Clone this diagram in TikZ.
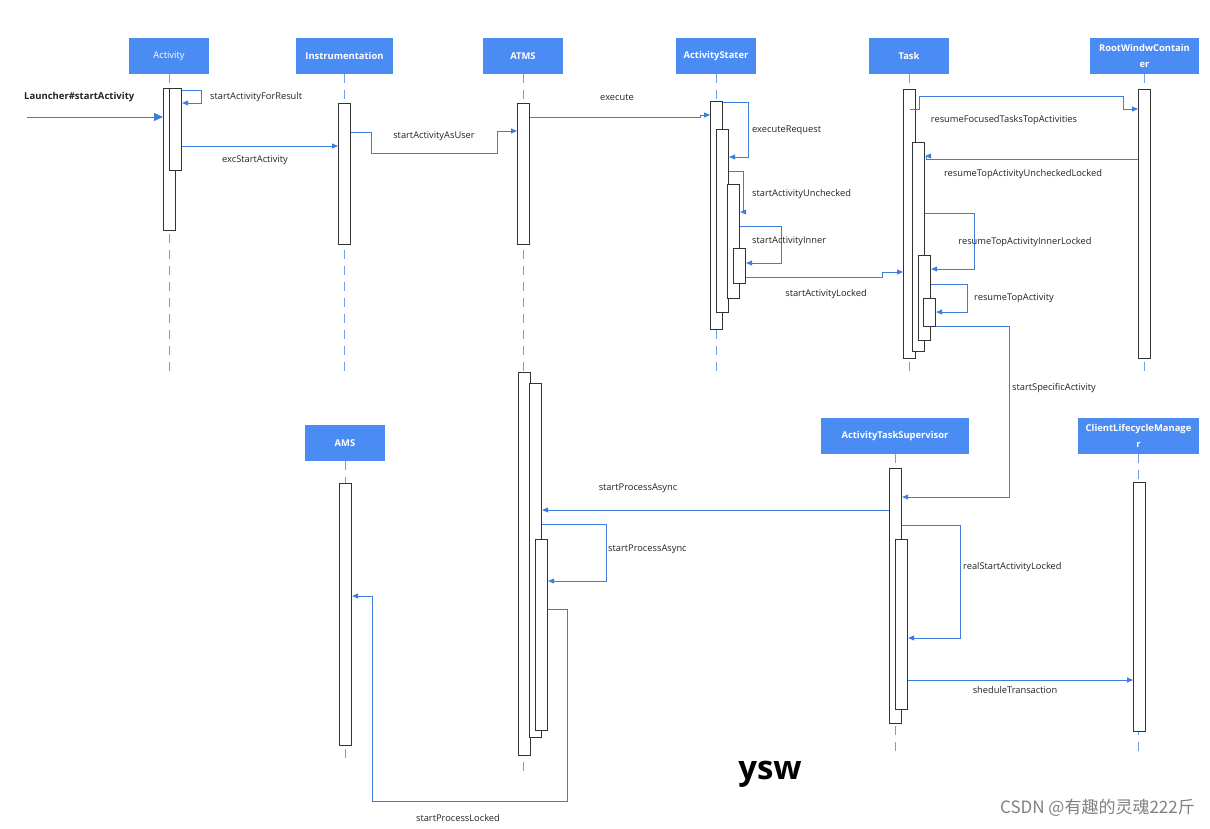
\documentclass[tikz,border=0pt]{standalone}
\usepackage{fontspec}
\setmainfont{Open Sans}
\newfontfamily\cjkfont{Noto Sans CJK SC}
\usetikzlibrary{arrows.meta, positioning}
\definecolor{headblue}{HTML}{4A8BF4}
\definecolor{msgblue}{HTML}{3D7EDD}
\definecolor{lifeblue}{HTML}{6E9FEE}
\definecolor{bargray}{HTML}{333333}
\definecolor{labelgray}{HTML}{222222}

\begin{document}
\begin{tikzpicture}[x=1pt, y=-1pt,
    head/.style={rectangle, fill=headblue, text=white, minimum height=36pt, inner sep=0pt, font=\fontsize{9.4}{16}\selectfont\bfseries, align=center},
    lifeline/.style={draw=lifeblue, dash pattern=on 9pt off 7pt, line width=1pt},
    bar/.style={rectangle, draw=bargray, fill=white, line width=1.1pt, anchor=north west, minimum width=12pt, inner sep=0pt},
    msg/.style={-{Triangle[length=6pt, width=5pt]}, draw=msgblue, line width=0.9pt},
    lbl/.style={font=\fontsize{9.3}{11}\selectfont, text=labelgray, inner sep=0pt}
]
\useasboundingbox (0,0) rectangle (1210,828);

% heads
\node[head, minimum width=80pt] (hAct) at (169,56) {\mdseries Activity};
\node[head, minimum width=97pt] (hIns) at (344.5,56) {Instrumentation};
\node[head, minimum width=80pt] (hAtms) at (523,56) {ATMS};
\node[head, minimum width=80pt] (hStarter) at (716,56) {ActivityStater};
\node[head, minimum width=80pt] (hTask) at (909,56) {Task};
\node[head, minimum width=109pt] (hRoot) at (1144.5,56) {RootWindwContain\\er};
\node[head, minimum width=80pt] (hAms) at (345,443) {AMS};
\node[head, minimum width=148pt] (hSup) at (895,436) {ActivityTaskSupervisor};
\node[head, minimum width=121pt] (hClient) at (1138.5,436) {ClientLifecycleManage\\r};

% lifelines
\draw[lifeline] (hAct.south) -- (hAct.south |- 0,375);
\draw[lifeline] (hIns.south) -- (hIns.south |- 0,375);
\draw[lifeline] (hAtms.south) -- (hAtms.south |- 0,773);
\draw[lifeline] (hStarter.south) -- (hStarter.south |- 0,375);
\draw[lifeline] (hTask.south) -- (hTask.south |- 0,375);
\draw[lifeline] (hRoot.south) -- (hRoot.south |- 0,375);
\draw[lifeline] (hAms.south) -- (hAms.south |- 0,762);
\draw[lifeline] (hSup.south) -- (hSup.south |- 0,755);
\draw[lifeline] (hClient.south) -- (hClient.south |- 0,757);

% activation bars
\node[bar, minimum height=142pt] (actA) at (163,88) {};
\node[bar, minimum height=82pt] (actB) at (169,88) {};
\node[bar, minimum height=141pt] (insBar) at (338,103) {};
\node[bar, minimum height=141pt] (atmsBar) at (517,103) {};
\node[bar, minimum height=228pt] (stA) at (710,101) {};
\node[bar, minimum height=183pt] (stB) at (716,129) {};
\node[bar, minimum height=114pt] (stC) at (727,184) {};
\node[bar, minimum height=35pt] (stD) at (733,248) {};
\node[bar, minimum height=269pt] (tA) at (903,89) {};
\node[bar, minimum height=209pt] (tB) at (912,142) {};
\node[bar, minimum height=85pt] (tC) at (918,255) {};
\node[bar, minimum height=28pt] (tD) at (923,298) {};
\node[bar, minimum height=269pt] (rootBar) at (1138,89) {};
\node[bar, minimum height=383pt] (mA) at (518,372) {};
\node[bar, minimum height=354pt] (mB) at (529,383) {};
\node[bar, minimum height=191pt] (mC) at (535,539) {};
\node[bar, minimum height=262pt] (amsBar) at (339,483) {};
\node[bar, minimum height=255pt] (sA) at (889,468) {};
\node[bar, minimum height=170pt] (sB) at (895,539) {};
\node[bar, minimum height=249pt] (clientBar) at (1133,482) {};

% messages
\coordinate (launch) at (27,117);
\draw[msg, -{Triangle[length=9pt, width=8pt]}] (launch) -- (actA.west |- launch);
\draw[msg] (actB.east |- 0,90) -- (201,90) |- (actB.east |- 0,103);
\draw[msg] (actB.east |- 0,146) -- (insBar.west |- 0,146);
\draw[msg] (insBar.east |- 0,132) -| (371,153) -| (497,131) -- (atmsBar.west |- 0,131);
\draw[msg] (atmsBar.east |- 0,117) -| (700,115) -- (stA.west |- 0,115);
\draw[msg] (stA.east |- 0,102) -- (748,102) |- (stB.east |- 0,157);
\draw[msg] (stB.east |- 0,171) -- (743,171) |- (stC.east |- 0,212);
\draw[msg] (stC.east |- 0,226) -- (781,226) |- (stD.east |- 0,263);
\draw[msg] (stD.east |- 0,277) -| (882,272) -- (tA.west |- 0,272);
\draw[msg] (tA.center |- 0,109) -- (919,109) |- (1123,96) |- (rootBar.west |- 0,109);
\draw[msg] (rootBar.west |- 0,159) -| (926,156) -- (tB.east |- 0,156);
\draw[msg] (tB.east |- 0,213) -- (974,213) |- (tC.east |- 0,269);
\draw[msg] (tC.east |- 0,284) -- (967,284) |- (tD.east |- 0,312);
\draw[msg] (tD.east |- 0,326) -- (1009,326) |- (sA.east |- 0,497);
\draw[msg] (sA.west |- 0,510) -- (mB.east |- 0,510);
\draw[msg] (mB.east |- 0,524) -- (606,524) |- (mC.east |- 0,581);
\draw[msg] (sA.east |- 0,525) -- (960,525) |- (sB.east |- 0,638);
\draw[msg] (sB.east |- 0,680) -- (clientBar.west |- 0,680);
\draw[msg] (mC.east |- 0,609) -- (567,609) |- (372,801) |- (amsBar.east |- 0,596);

% labels
\node[lbl, anchor=west, font=\fontsize{9.5}{11}\selectfont\bfseries] (lLaunch) at (24,97) {Launcher\#startActivity};
\node[lbl, anchor=west] (lForResult) at (210,97) {startActivityForResult};
\node[lbl] (lExc) at (255,160) {excStartActivity};
\node[lbl] (lAsUser) at (434,136) {startActivityAsUser};
\node[lbl] (lExecute) at (617,97) {execute};
\node[lbl, anchor=west] (lRequest) at (752,130) {executeRequest};
\node[lbl, anchor=west] (lUnchecked) at (752,194) {startActivityUnchecked};
\node[lbl, anchor=west] (lInner) at (752,241) {startActivityInner};
\node[lbl] (lLocked) at (826,294) {startActivityLocked};
\node[lbl] (lFocused) at (1004,120) {resumeFocusedTasksTopActivities};
\node[lbl] (lTopUnchecked) at (1023,174) {resumeTopActivityUncheckedLocked};
\node[lbl] (lTopInner) at (1025,242) {resumeTopActivityInnerLocked};
\node[lbl] (lTop) at (1014,298) {resumeTopActivity};
\node[lbl, anchor=west] (lSpecific) at (1012,388) {startSpecificActivity};
\node[lbl] (lAsync) at (638,488) {startProcessAsync};
\node[lbl, anchor=west] (lAsyncSelf) at (608,549) {startProcessAsync};
\node[lbl, anchor=west] (lReal) at (963,567) {realStartActivityLocked};
\node[lbl] (lShedule) at (1015,690) {sheduleTransaction};
\node[lbl] (lProcLocked) at (458,818) {startProcessLocked};

\node[font=\fontsize{33}{33}\selectfont\bfseries, inner sep=0pt] (sig) at (770,774) {ysw};
\node[font=\cjkfont\fontsize{17}{17}\selectfont, text=gray, anchor=east, inner sep=0pt] (csdn) at (1195,808) {CSDN @有趣的灵魂222斤};

\end{tikzpicture}
\end{document}
